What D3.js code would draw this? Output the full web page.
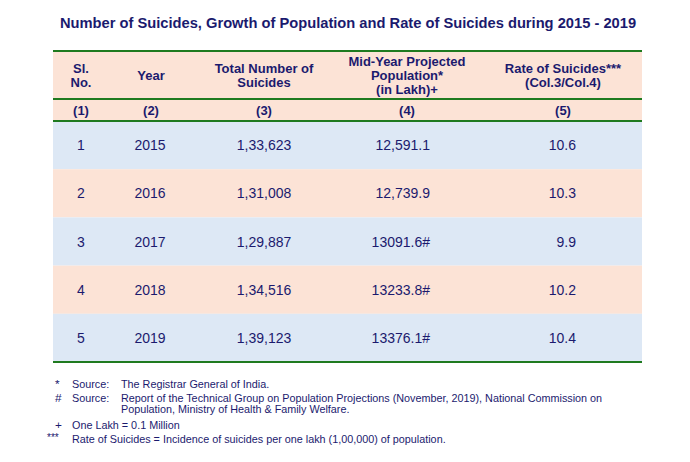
<!DOCTYPE html>
<html><head><meta charset="utf-8">
<script src="https://cdn.jsdelivr.net/npm/d3@7/dist/d3.min.js"></script>
<style>body{margin:0;background:#fff}svg{display:block;font-family:"Liberation Sans",Arial,sans-serif}</style>
</head><body><svg id="c" width="690" height="462"></svg>
<script>
const title = "Number of Suicides, Growth of Population and Rate of Suicides during 2015 - 2019";
const headers = [["Sl.","No."],["Year"],["Total Number of","Suicides"],["Mid-Year Projected","Population*","(in Lakh)+"],["Rate of Suicides***","(Col.3/Col.4)"]];
const colNums = ["(1)","(2)","(3)","(4)","(5)"];
const slNo = ["1","2","3","4","5"];
const years = ["2015","2016","2017","2018","2019"];
const suicides = ["1,33,623","1,31,008","1,29,887","1,34,516","1,39,123"];
const population = ["12,591.1","12,739.9","13091.6#","13233.8#","13376.1#"];
const rates = ["10.6","10.3","9.9","10.2","10.4"];
const notes = [
  {sym:"*", label:"Source:", lines:["The Registrar General of India."]},
  {sym:"#", label:"Source:", lines:["Report of the Technical Group on Population Projections (November, 2019), National Commission on","Population, Ministry of Health & Family Welfare."]},
  {sym:"+", label:"", lines:["One Lakh = 0.1 Million"]},
  {sym:"***", label:"", lines:["Rate of Suicides = Incidence of suicides per one lakh (1,00,000) of population."]}
];

const svg = d3.select("#c");
const navy = "#1b1a6e";
const peach = "#fce3d6", blue = "#dde8f5", green = "#1f7a1f";
const L = 53, R = 642;

// title
svg.append("text").attr("x", 348).attr("y", 28).attr("text-anchor","middle")
  .attr("font-size", 14.7).attr("font-weight","bold").attr("fill", navy).text(title);

// header backgrounds
svg.append("rect").attr("x",L).attr("y",51).attr("width",R-L).attr("height",70).attr("fill",peach);

const rowIdx = d3.range(years.length);
const y = d3.scaleBand().domain(rowIdx).range([121, 362]);
svg.selectAll("rect.row").data(rowIdx).join("rect").attr("class","row")
  .attr("x",L).attr("width",R-L).attr("y",d=>y(d)).attr("height",y.bandwidth())
  .attr("fill",(d,i)=> i%2===0 ? blue : peach);

// green rules
[51, 99, 121, 362].forEach(v=>{
  svg.append("line").attr("x1",L).attr("x2",R).attr("y1",v).attr("y2",v)
    .attr("stroke",green).attr("stroke-width",2.2);
});

// column centres
const colX = [81, 151, 264, 407, 563];

// header text
headers.forEach((lines,i)=>{
  const lh = 14, n = lines.length;
  const cy = 75;
  lines.forEach((t,j)=>{
    svg.append("text").attr("x",colX[i]).attr("y", cy + (j-(n-1)/2)*lh).attr("dy","0.36em")
      .attr("text-anchor","middle").attr("font-size",13).attr("font-weight","bold")
      .attr("fill",navy).text(t);
  });
});
colNums.forEach((t,i)=>{
  svg.append("text").attr("x",colX[i]).attr("y",110).attr("dy","0.36em")
    .attr("text-anchor","middle").attr("font-size",13).attr("font-weight","bold")
    .attr("fill",navy).text(t);
});

// body
const cols = [
  {data:slNo, x:81, anchor:"middle"},
  {data:years, x:150, anchor:"middle"},
  {data:suicides, x:264, anchor:"middle"},
  {data:population, x:430, anchor:"end"},
  {data:rates, x:576, anchor:"end"}
];
cols.forEach(c=>{
  svg.selectAll(null).data(c.data).join("text")
    .attr("x",c.x).attr("y",(d,i)=>y(i)+y.bandwidth()/2).attr("dy","0.36em")
    .attr("text-anchor",c.anchor).attr("font-size",14).attr("fill",navy).text(d=>d);
});

// footnotes
let fy = 384;
const fs = 10.8;
notes.forEach((n,k)=>{
  const symX = n.sym==="***" ? 47 : 55;
  svg.append("text").attr("x",symX).attr("y",fy).attr("dy", n.sym==="***"?"0.2em":"0.36em").attr("font-size", n.sym==="***"?10:fs+1)
    .attr("fill",navy).text(n.sym);
  if(n.label){
    svg.append("text").attr("x",72).attr("y",fy).attr("dy","0.36em").attr("font-size",fs).attr("fill",navy).text(n.label);
  }
  const tx = n.label ? 121 : 72;
  n.lines.forEach((t,j)=>{
    svg.append("text").attr("x",tx).attr("y",fy + j*11).attr("dy","0.36em").attr("font-size",fs).attr("fill",navy).text(t);
  });
  fy += (n.lines.length-1)*11 + (k===1 ? 16 : 14);
});
</script></body></html>
